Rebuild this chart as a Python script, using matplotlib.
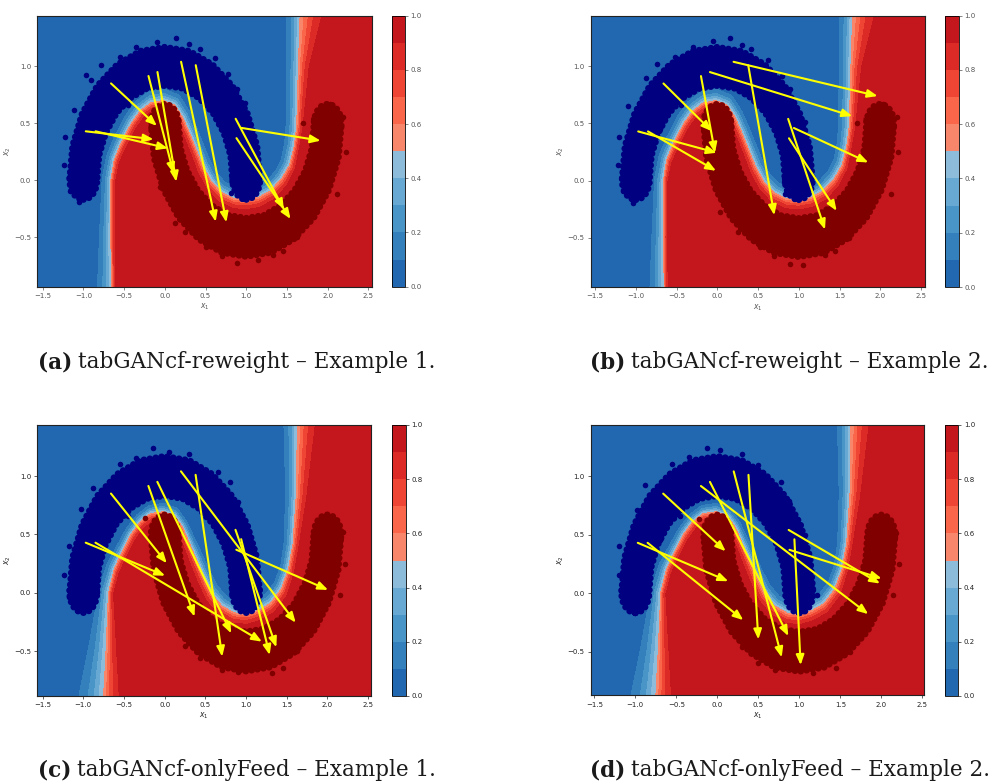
import numpy as np
import matplotlib
matplotlib.use("Agg")
import matplotlib.pyplot as plt
from matplotlib.colors import ListedColormap
from matplotlib.path import Path
from matplotlib.patches import Polygon, Circle

# colours of the ten probability bands 0.0-0.1 ... 0.9-1.0
band_colors = ['#2268b0', '#3480bd', '#4a95c7', '#67a9d2', '#8cbcda',
               '#f7866b', '#fa6649', '#ee4535', '#dc2a26', '#c4161d']
cbar_ticks = [0.0, 0.2, 0.4, 0.6, 0.8, 1.0]
x_ticks = [-1.5, -1.0, -0.5, 0.0, 0.5, 1.0, 1.5, 2.0, 2.5]
y_ticks = [-0.5, 0.0, 0.5, 1.0]

# centre lines of the two moons (class 0 on top, class 1 below)
moon0_x = [-1.0, -0.97, -0.87, -0.71, -0.50, -0.26, 0.0, 0.26, 0.50, 0.71, 0.87, 0.97, 1.0]
moon0_y = [0.0, 0.26, 0.50, 0.71, 0.87, 0.97, 1.0, 0.97, 0.87, 0.71, 0.50, 0.26, 0.0]
moon1_x = [0.0, 0.03, 0.13, 0.29, 0.50, 0.74, 1.0, 1.26, 1.50, 1.71, 1.87, 1.97, 2.0]
moon1_y = [0.5, 0.24, 0.0, -0.21, -0.37, -0.47, -0.5, -0.47, -0.37, -0.21, 0.0, 0.24, 0.5]
moon_half = 0.17

# decision boundary (p = 0.5) of the reweight model, with softness on each side
rw_bx = [-0.65, -0.65, -0.66, -0.66, -0.62, -0.54, -0.41, -0.30, -0.17, -0.02, 0.12, 0.22,
         0.30, 0.38, 0.47, 0.57, 0.70, 0.85, 1.0, 1.15, 1.30, 1.43, 1.53, 1.59, 1.62, 1.64, 1.66, 1.66]
rw_by = [-1.3, -0.93, -0.5, 0.0, 0.18, 0.32, 0.50, 0.61, 0.68, 0.70, 0.66, 0.55,
         0.42, 0.28, 0.12, -0.01, -0.11, -0.16, -0.17, -0.15, -0.09, 0.01, 0.13, 0.30, 0.47, 1.0, 1.44, 1.6]
rw_soft_blue = [0.085, 0.08, 0.065, 0.05, 0.045, 0.045, 0.045, 0.045, 0.045, 0.045, 0.045, 0.045,
                0.045, 0.045, 0.045, 0.045, 0.045, 0.045, 0.045, 0.045, 0.045, 0.045, 0.05, 0.055, 0.06, 0.065, 0.075, 0.075]
rw_soft_red = [0.022, 0.022, 0.022, 0.025, 0.03, 0.033, 0.033, 0.033, 0.033, 0.033, 0.033, 0.035,
               0.035, 0.035, 0.038, 0.04, 0.04, 0.04, 0.04, 0.04, 0.04, 0.04, 0.035, 0.03, 0.035, 0.06, 0.12, 0.12]

# decision boundary of the onlyFeed model
of_bx = [-0.76, -0.75, -0.72, -0.69, -0.62, -0.557, -0.413, -0.30, -0.17, -0.02, 0.12, 0.22,
         0.30, 0.38, 0.47, 0.57, 0.70, 0.85, 1.0, 1.15, 1.30, 1.43, 1.52, 1.577, 1.618, 1.63, 1.63]
of_by = [-1.3, -0.88, -0.5, 0.0, 0.2, 0.3, 0.5, 0.61, 0.68, 0.695, 0.66, 0.56,
         0.43, 0.30, 0.15, 0.0, -0.11, -0.17, -0.18, -0.15, -0.09, 0.03, 0.2, 0.42, 0.85, 1.436, 1.6]
of_soft_blue = [0.14, 0.136, 0.1, 0.056, 0.045, 0.04, 0.035, 0.032, 0.032, 0.032, 0.032, 0.032,
                0.035, 0.038, 0.04, 0.045, 0.045, 0.045, 0.045, 0.045, 0.045, 0.045, 0.045, 0.05, 0.06, 0.075, 0.075]
of_soft_red = [0.09, 0.088, 0.06, 0.028, 0.03, 0.032, 0.032, 0.032, 0.032, 0.032, 0.032, 0.035,
               0.035, 0.038, 0.04, 0.04, 0.04, 0.04, 0.04, 0.04, 0.04, 0.04, 0.035, 0.035, 0.06, 0.1, 0.1]

# factual points shared by every example
start_x = [-0.66, -0.97, -0.85, -0.20, -0.09, 0.20, 0.38, 0.87, 0.88, 0.94]
start_y = [0.85, 0.43, 0.43, 0.915, 0.95, 1.04, 1.01, 0.54, 0.37, 0.46]

# counterfactuals of each example
cf_a_x = [-0.097, -0.138, 0.038, 0.108, 0.141, 0.625, 0.756, 1.462, 1.544, 1.913]
cf_a_y = [0.477, 0.36, 0.281, 0.061, -0.012, -0.363, -0.368, -0.254, -0.339, 0.348]
cf_b_x = [-0.069, -0.007, -0.015, -0.028, 1.657, 1.968, 0.700, 1.322, 1.465, 1.854]
cf_b_y = [0.433, 0.243, 0.085, 0.243, 0.564, 0.740, -0.304, -0.430, -0.266, 0.158]
cf_c_x = [0.026, 0.006, 1.195, 0.367, 0.818, 1.610, 0.707, 1.372, 2.008, 1.290]
cf_c_y = [0.254, 0.148, -0.416, -0.202, -0.345, -0.254, -0.544, -0.464, 0.026, -0.530]
cf_d_x = [0.102, 0.134, 0.317, 1.841, 0.866, 0.785, 0.500, 1.984, 2.004, 1.016]
cf_d_y = [0.358, 0.102, -0.230, -0.179, -0.366, -0.548, -0.395, 0.082, 0.125, -0.614]

# loose samples sticking out of the two moons
stray0_a_x = [-1.225, -1.233, -1.16, -1.05, -0.967, -0.782, 0.141, 0.428, 0.888, 0.818, 1.044, 0.982,
              -1.12, -0.90, -0.55, -0.35, -0.10, 0.30, 0.62, 0.78, 1.12, 0.72, 0.60, -0.45, -0.72]
stray0_a_y = [0.377, 0.135, -0.094, -0.193, 0.921, 1.012, 1.246, 1.149, 0.798, -0.114, -0.105, 0.675,
              0.62, 0.88, 1.08, 1.17, 1.21, 1.20, 1.07, 0.93, 0.25, 0.52, 0.62, 0.66, 0.45]
stray1_a_x = [2.028, 2.192, 1.70, 0.892, 1.331, 0.502, 0.121, -0.064, -0.085,
              2.22, 2.12, 1.62, 1.45, 0.25, 0.70, 1.15, 1.60, 0.32, 1.78]
stray1_a_y = [0.667, 0.558, 0.5, -0.722, -0.655, -0.582, -0.371, -0.056, 0.295,
              0.25, -0.12, -0.50, -0.62, -0.45, -0.66, -0.70, -0.10, -0.02, 0.05]
stray0_b_x = [-1.206, -1.222, -1.152, -1.038, -0.743, 0.156, 0.414, 0.893, 0.831, 1.015, 1.077,
              -1.10, -0.88, -0.52, -0.30, -0.05, 0.30, 0.62, 0.80, 1.13, 0.70, -0.45, -0.70]
stray0_b_y = [0.377, 0.135, -0.094, -0.193, 1.018, 1.246, 1.149, 0.798, -0.114, -0.105, 0.515,
              0.65, 0.90, 1.08, 1.17, 1.22, 1.19, 1.06, 0.92, 0.22, 0.55, 0.66, 0.45]
stray1_b_x = [2.038, 2.201, 1.711, 0.893, 1.056, 0.525, 0.034, 1.322,
              2.22, 2.13, 1.62, 1.45, 0.25, 0.70, 1.60, 0.32, 1.78]
stray1_b_y = [0.667, 0.558, 0.5, -0.728, -0.737, -0.582, -0.275, -0.655,
              0.25, -0.12, -0.50, -0.62, -0.45, -0.66, -0.10, -0.02, 0.05]
stray0_c_x = [-0.138, -1.242, -1.172, -1.069, -0.926, -1.028, 0.059, 0.654, 0.90, 1.023, 1.035,
              -1.18, -0.88, -0.55, -0.35, 0.30, 0.80, 1.12, 0.72, 0.58, -0.45, -0.70]
stray0_c_y = [1.242, 0.154, -0.031, -0.117, -0.117, 0.721, 1.208, 1.031, 0.781, -0.145, 0.496,
              0.40, 0.90, 1.10, 1.15, 1.19, 0.95, 0.22, 0.55, 0.62, 0.66, 0.45]
stray1_c_x = [1.946, 2.049, 2.192, 2.151, -0.236, 0.90, 1.323, 0.428,
              2.22, 1.62, 1.45, 0.25, 0.70, 1.60, 0.32, 1.78, 0.05]
stray1_c_y = [0.638, 0.644, 0.524, -0.017, 0.638, -0.672, -0.687, -0.558,
              0.25, -0.50, -0.64, -0.45, -0.66, -0.10, -0.02, 0.05, 0.55]
stray0_d_x = [-0.122, 0.033, -1.199, -1.045, -0.902, -0.984, 0.5, 0.878, 1.041, 1.211, 1.069,
              -1.20, -0.88, -0.55, -0.35, 0.30, 0.78, 1.12, 0.72, 0.58, -0.45, -0.70]
stray0_d_y = [1.239, 1.219, 0.153, -0.116, -0.116, 0.713, 1.091, 0.787, -0.151, -0.017, 0.494,
              0.40, 0.92, 1.10, 1.16, 1.19, 0.95, 0.22, 0.55, 0.62, 0.66, 0.45]
stray1_d_x = [1.976, 2.057, 2.179, 2.138, -0.22, 0.846, 1.171, 0.5, 0.297,
              2.22, 1.62, 1.45, 0.70, 1.60, 0.32, 1.78, 0.05]
stray1_d_y = [0.634, 0.636, 0.514, -0.017, 0.634, -0.599, -0.685, -0.599, -0.463,
              0.25, -0.50, -0.64, -0.66, -0.10, -0.02, 0.05, 0.55]

captions = ['tabGANcf-reweight \u2013 Example 1.', 'tabGANcf-reweight \u2013 Example 2.',
            'tabGANcf-onlyFeed \u2013 Example 1.', 'tabGANcf-onlyFeed \u2013 Example 2.']
letters = ['(a)', '(b)', '(c)', '(d)']

W, H = 999, 783
cmap = ListedColormap(band_colors)
levels = np.linspace(0, 1, 11)


def prob_field(xx, yy, bx, by, soft_blue, soft_red):
    # logistic of the signed distance to the boundary line
    bx = np.asarray(bx, float)
    by = np.asarray(by, float)
    px = xx.ravel()[:, None]
    py = yy.ravel()[:, None]
    sx, sy = bx[:-1], by[:-1]
    dx, dy = np.diff(bx), np.diff(by)
    t = ((px - sx) * dx + (py - sy) * dy) / (dx ** 2 + dy ** 2)
    t = np.clip(t, 0, 1)
    d2 = (px - sx - t * dx) ** 2 + (py - sy - t * dy) ** 2
    k = d2.argmin(axis=1)
    rows = np.arange(len(k))
    dist = np.sqrt(d2[rows, k])
    tk = t[rows, k]
    sb = np.asarray(soft_blue)
    sr = np.asarray(soft_red)
    s_blue = sb[k] * (1 - tk) + sb[k + 1] * tk
    s_red = sr[k] * (1 - tk) + sr[k + 1] * tk
    region = Path(np.column_stack([np.r_[bx, 4.0, 4.0], np.r_[by, by[-1], by[0]]]))
    red = region.contains_points(np.column_stack([xx.ravel(), yy.ravel()]))
    z = np.where(red, dist / s_red, -dist / s_blue)
    return (1 / (1 + np.exp(-z))).reshape(xx.shape)


def moon(ax, cx, cy, half, color):
    # band of samples around the centre line, edged with a row of dots
    cx = np.asarray(cx, float)
    cy = np.asarray(cy, float)
    tx, ty = np.gradient(cx), np.gradient(cy)
    n = np.hypot(tx, ty)
    nx, ny = -ty / n, tx / n
    outer = np.column_stack([cx + half * nx, cy + half * ny])
    inner = np.column_stack([cx - half * nx, cy - half * ny])
    shape = np.vstack([outer, inner[::-1]])
    ax.add_patch(Polygon(shape, closed=True, fc=color, ec='none', zorder=2))
    for i in (0, -1):
        ax.add_patch(Circle((cx[i], cy[i]), half, fc=color, ec='none', zorder=2))
        ax.add_patch(Circle((cx[i], cy[i]), half, fc='none', ec=color, lw=4.5,
                            ls=(0, (0.05, 0.9)), capstyle='round', zorder=2))
    ax.add_patch(Polygon(shape, closed=True, fc='none', ec=color, lw=4.5,
                         ls=(0, (0.05, 0.9)), capstyle='round', zorder=2))


def px_box(left, right, top, bottom):
    return [left / W, 1 - bottom / H, (right - left) / W, (bottom - top) / H]


panels = [
    dict(box=(37.3, 371.7, 15.7, 286.7), cbox=(392.3, 404.5, 15.7, 286.7),
         xlim=(-1.565, 2.54), ylim=(-0.933, 1.444), model='rw',
         cf=(cf_a_x, cf_a_y), s0=(stray0_a_x, stray0_a_y), s1=(stray1_a_x, stray1_a_y),
         ink='#555555', cap=(38, 368)),
    dict(box=(590.7, 925, 15.7, 287), cbox=(945, 959, 15.7, 287),
         xlim=(-1.553, 2.549), ylim=(-0.933, 1.444), model='rw',
         cf=(cf_b_x, cf_b_y), s0=(stray0_b_x, stray0_b_y), s1=(stray1_b_x, stray1_b_y),
         ink='#555555', cap=(590, 368)),
    dict(box=(37.3, 371, 425, 695.7), cbox=(391.7, 405.7, 425, 696),
         xlim=(-1.565, 2.535), ylim=(-0.878, 1.436), model='of',
         cf=(cf_c_x, cf_c_y), s0=(stray0_c_x, stray0_c_y), s1=(stray1_c_x, stray1_c_y),
         ink='#222222', cap=(38, 776)),
    dict(box=(590.7, 924.3, 425, 695.3), cbox=(945, 958.3, 425, 696),
         xlim=(-1.544, 2.524), ylim=(-0.872, 1.436), model='of',
         cf=(cf_d_x, cf_d_y), s0=(stray0_d_x, stray0_d_y), s1=(stray1_d_x, stray1_d_y),
         ink='#222222', cap=(590, 776)),
]

models = {'rw': (rw_bx, rw_by, rw_soft_blue, rw_soft_red),
          'of': (of_bx, of_by, of_soft_blue, of_soft_red)}

fig = plt.figure(figsize=(W / 100, H / 100), dpi=100)
renderer = fig.canvas.get_renderer()

for i, p in enumerate(panels):
    ax = fig.add_axes(px_box(*p['box']))
    xx, yy = np.meshgrid(np.linspace(p['xlim'][0], p['xlim'][1], 420),
                         np.linspace(p['ylim'][0], p['ylim'][1], 300))
    zz = prob_field(xx, yy, *models[p['model']])
    cs = ax.contourf(xx, yy, zz, levels=levels, cmap=cmap)

    moon(ax, moon0_x, moon0_y, moon_half, '#000080')
    moon(ax, moon1_x, moon1_y, moon_half, '#800000')
    ax.scatter(*p['s0'], s=16, c='#000080', lw=0, zorder=2)
    ax.scatter(*p['s1'], s=16, c='#800000', lw=0, zorder=2)

    ex, ey = p['cf']
    for x0, y0, x1, y1 in zip(start_x, start_y, ex, ey):
        ax.annotate('', xy=(x1, y1), xytext=(x0, y0), zorder=3,
                    arrowprops=dict(arrowstyle='-|>,head_length=0.5,head_width=0.2',
                                    color='#ffff00', lw=1.5, mutation_scale=12,
                                    shrinkA=0, shrinkB=0))

    ax.set_xlim(*p['xlim'])
    ax.set_ylim(*p['ylim'])
    ax.set_xticks(x_ticks)
    ax.set_yticks(y_ticks)
    ax.tick_params(labelsize=5, length=2.5, width=0.5, pad=2, colors=p['ink'])
    for sp in ax.spines.values():
        sp.set_linewidth(0.8)
        sp.set_color('#222222')
    ax.set_xlabel('$x_1$', fontsize=5.5, labelpad=2, color=p['ink'])
    ax.set_ylabel('$x_2$', fontsize=5.5, labelpad=1, color=p['ink'])

    cax = fig.add_axes(px_box(*p['cbox']))
    cb = fig.colorbar(cs, cax=cax, ticks=cbar_ticks)
    cb.ax.tick_params(labelsize=5, length=2.5, width=0.5, pad=1.5, colors=p['ink'])
    cb.outline.set_linewidth(0.6)

    # caption: bold letter followed by the plain text
    cx, cy = p['cap']
    t = fig.text(cx / W, 1 - cy / H, letters[i], fontsize=15.5, fontweight='bold',
                 family='DejaVu Serif', va='baseline', ha='left', color='#1a1a1a')
    bb = t.get_window_extent(renderer=renderer)
    fig.text((bb.x1 + 6) / W, 1 - cy / H, captions[i], fontsize=15.5,
             family='DejaVu Serif', va='baseline', ha='left', color='#1a1a1a')

fig.savefig('out.png', dpi=100)
